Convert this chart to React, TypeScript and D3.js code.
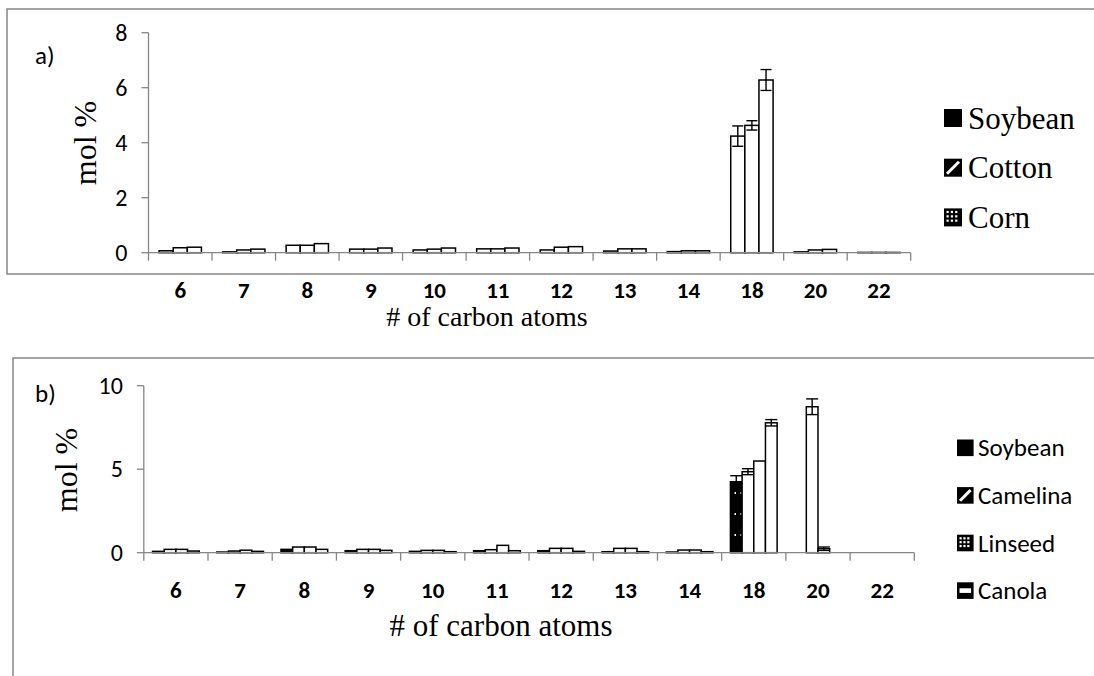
import React from "react";
import * as d3 from "d3";

// categories shared by both panels
const categories = ["6", "7", "8", "9", "10", "11", "12", "13", "14", "18", "20", "22"];

// panel a) values (mol %)
const seriesA = ["Soybean", "Cotton", "Corn"];
const soybeanA = [0.07, 0.03, 0.27, 0.13, 0.1, 0.14, 0.1, 0.06, 0.04, 4.24, 0.03, 0.01];
const cottonA = [0.18, 0.1, 0.27, 0.13, 0.13, 0.14, 0.2, 0.14, 0.07, 4.63, 0.1, 0.01];
const cornA = [0.2, 0.13, 0.33, 0.17, 0.17, 0.17, 0.22, 0.14, 0.07, 6.28, 0.12, 0.01];
const soybeanAErr = [0, 0, 0, 0, 0, 0, 0, 0, 0, 0.37, 0, 0];
const cottonAErr = [0, 0, 0, 0, 0, 0, 0, 0, 0, 0.17, 0, 0];
const cornAErr = [0, 0, 0, 0, 0, 0, 0, 0, 0, 0.38, 0, 0];
const ticksA = [0, 2, 4, 6, 8];

// panel b) values (mol %)
const seriesB = ["Soybean", "Camelina", "Linseed", "Canola"];
const soybeanB = [0.08, 0.04, 0.2, 0.12, 0.08, 0.12, 0.12, 0.06, 0.04, 4.25, 0, 0];
const camelinaB = [0.2, 0.1, 0.34, 0.2, 0.14, 0.18, 0.26, 0.26, 0.16, 4.85, 8.74, 0];
const linseedB = [0.2, 0.15, 0.34, 0.2, 0.14, 0.44, 0.26, 0.26, 0.16, 5.49, 0.24, 0];
const canolaB = [0.1, 0.08, 0.2, 0.14, 0.06, 0.12, 0.08, 0.06, 0.06, 7.78, 0, 0];
const soybeanBErr = [0, 0, 0, 0, 0, 0, 0, 0, 0, 0.36, 0, 0];
const camelinaBErr = [0, 0, 0, 0, 0, 0, 0, 0, 0, 0.18, 0.47, 0];
const linseedBErr = [0, 0, 0, 0, 0, 0, 0, 0, 0, 0, 0.1, 0];
const canolaBErr = [0, 0, 0, 0, 0, 0, 0, 0, 0, 0.19, 0, 0];
const ticksB = [0, 5, 10];

const AXIS = "#868686";
const SANS = "Carlito, Lato, 'Liberation Sans', sans-serif";
const SERIF = "'Liberation Serif', 'Times New Roman', serif";

function Marker({ kind, x, y, s }) {
  const items = [<rect key="b" x={x} y={y} width={s} height={s} fill="#000" />];
  if (kind === "diag") {
    items.push(<line key="d" x1={x + 3} y1={y + s - 3} x2={x + s - 3} y2={y + 3} stroke="#fff" strokeWidth={3} />);
  } else if (kind === "grid") {
    for (let i = 0; i < 3; i++)
      for (let j = 0; j < 3; j++)
        items.push(<rect key={"g" + i + j} x={x + 2.5 + i * (s - 5) / 3} y={y + 2.5 + j * (s - 5) / 3} width={2.2} height={2.2} fill="#fff" />);
  } else if (kind === "band") {
    items.push(<rect key="w" x={x + 2.5} y={y + s * 0.36} width={s - 5} height={s * 0.28} fill="#fff" />);
  }
  return <g>{items}</g>;
}

function Panel({ names, values, errors, fills, ticks, xRange, yRange, capHalf, tickLen }) {
  const x = d3.scaleBand().domain(categories).range(xRange).paddingInner(0).paddingOuter(0);
  const y = d3.scaleLinear().domain([0, ticks[ticks.length - 1]]).range(yRange);
  const n = names.length;
  const step = x.step();
  const bw = step / (n + 1.5);
  const off = bw * 0.75;

  return (
    <g>
      {/* bars */}
      {values.map((vals, s) =>
        vals.map((v, i) => {
          const bx = x(categories[i]) + off + s * bw;
          return (
            <rect key={s + "-" + i} x={bx} y={y(v)} width={bw} height={y(0) - y(v)}
              fill={fills[s]} stroke="#000" strokeWidth={1.5} />
          );
        })
      )}
      {/* error bars */}
      {errors.map((errs, s) =>
        errs.map((e, i) => {
          if (!e) return null;
          const cx = x(categories[i]) + off + s * bw + bw / 2;
          const v = values[s][i];
          return (
            <g key={"e" + s + "-" + i} stroke="#000" strokeWidth={1.4}>
              <line x1={cx} x2={cx} y1={y(v + e)} y2={y(v - e)} />
              <line x1={cx - capHalf} x2={cx + capHalf} y1={y(v + e)} y2={y(v + e)} />
              <line x1={cx - capHalf} x2={cx + capHalf} y1={y(v - e)} y2={y(v - e)} />
            </g>
          );
        })
      )}
      {/* axes */}
      <line x1={xRange[0]} x2={xRange[1]} y1={y(0)} y2={y(0)} stroke={AXIS} strokeWidth={1.3} />
      <line x1={xRange[0]} x2={xRange[0]} y1={y(ticks[ticks.length - 1])} y2={y(0) + tickLen} stroke={AXIS} strokeWidth={1.3} />
      {categories.map((c, i) => (
        <line key={"xt" + i} x1={x(c) + step} x2={x(c) + step} y1={y(0)} y2={y(0) + tickLen} stroke={AXIS} strokeWidth={1.3} />
      ))}
      {ticks.map((t) => (
        <g key={"yt" + t}>
          <line x1={xRange[0] - 7} x2={xRange[0]} y1={y(t)} y2={y(t)} stroke={AXIS} strokeWidth={1.3} />
          <text x={xRange[0] - 21} y={y(t) + 8} textAnchor="end" fontFamily={SANS} fontSize={24}>{t}</text>
        </g>
      ))}
      {categories.map((c) => (
        <text key={"xl" + c} x={x(c) + step / 2} y={y(0) + 45} textAnchor="middle"
          fontFamily={SANS} fontSize={23} fontWeight="bold">{c}</text>
      ))}
    </g>
  );
}

export default function App() {
  const kinds = ["solid", "diag", "grid", "band"];
  return (
    <svg width={1094} height={676} style={{ position: "absolute", left: 0, top: 0, background: "#fff" }}>
      <defs>
        <pattern id="soyDots" width={6} height={21} patternUnits="userSpaceOnUse">
          <rect width={6} height={21} fill="#000" />
          <rect x={2.5} y={9} width={1.5} height={2} fill="#fff" />
        </pattern>
      </defs>
      {/* panel frames */}
      <path d="M1094,9 H7 V274 H1094" fill="none" stroke={AXIS} strokeWidth={1.5} />
      <path d="M1094,358 H13 V676" fill="none" stroke={AXIS} strokeWidth={1.5} />

      {/* panel a */}
      <text x={35} y={64} fontFamily={SANS} fontSize={25}>a)</text>
      <text transform="translate(96,143) rotate(-90)" textAnchor="middle" fontFamily={SERIF} fontSize={32}>mol %</text>
      <Panel names={seriesA} values={[soybeanA, cottonA, cornA]} errors={[soybeanAErr, cottonAErr, cornAErr]}
        fills={["#fff", "#fff", "#fff"]} ticks={ticksA} xRange={[148.5, 910.7]} yRange={[252.7, 32.7]}
        capHalf={5.5} tickLen={8} />
      <text x={487} y={326} textAnchor="middle" fontFamily={SERIF} fontSize={28}># of carbon atoms</text>
      {seriesA.map((s, i) => (
        <g key={s}>
          <Marker kind={kinds[i]} x={944} y={118 + i * 49.7 - 9} s={18} />
          <text x={968} y={118 + i * 49.7 + 10.5} fontFamily={SERIF} fontSize={31}>{s}</text>
        </g>
      ))}

      {/* panel b */}
      <text x={35} y={402} fontFamily={SANS} fontSize={25}>b)</text>
      <text transform="translate(77,470) rotate(-90)" textAnchor="middle" fontFamily={SERIF} fontSize={32}>mol %</text>
      <Panel names={seriesB} values={[soybeanB, camelinaB, linseedB, canolaB]}
        errors={[soybeanBErr, camelinaBErr, linseedBErr, canolaBErr]}
        fills={["url(#soyDots)", "#fff", "#fff", "#fff"]} ticks={ticksB} xRange={[143.8, 914.3]} yRange={[552.7, 385.7]}
        capHalf={6} tickLen={8} />
      <text x={501} y={636} textAnchor="middle" fontFamily={SERIF} fontSize={31}># of carbon atoms</text>
      {seriesB.map((s, i) => (
        <g key={s}>
          <Marker kind={kinds[i]} x={957} y={447.8 + i * 47.6 - 8.3} s={16.6} />
          <text x={978} y={447.8 + i * 47.6 + 8.5} fontFamily={SANS} fontSize={25}>{s}</text>
        </g>
      ))}
    </svg>
  );
}
